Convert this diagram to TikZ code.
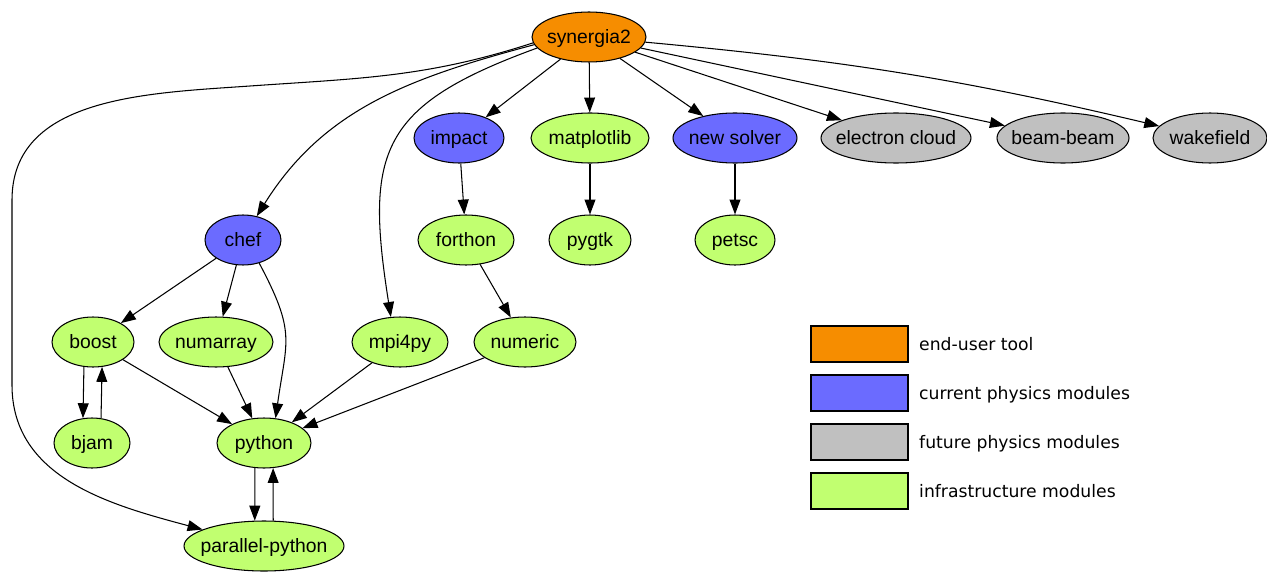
\documentclass[tikz,border=0pt]{standalone}
\usepackage{fontspec}
\usetikzlibrary{arrows.meta,positioning,shapes.geometric}
\newfontfamily\nodefont{Liberation Sans}
\newfontfamily\keyfont{DejaVu Sans}
\definecolor{toolorange}{HTML}{F68D00}
\definecolor{currentblue}{HTML}{6B6BFF}
\definecolor{futuregray}{HTML}{C0C0C0}
\definecolor{infragreen}{HTML}{C1FF70}
\tikzset{
  module/.style={draw, ellipse, line width=0.6pt, inner sep=0pt, minimum height=1cm,
    font=\nodefont\fontsize{11}{13}\selectfont, text height=9.7pt, text depth=2.3pt,
    execute at begin node={\hbox to 0pt\bgroup\hss}, execute at end node={\hss\egroup}},
  toolmod/.style={module, fill=toolorange},
  curmod/.style={module, fill=currentblue},
  futmod/.style={module, fill=futuregray},
  inframod/.style={module, fill=infragreen},
  dep/.style={line width=0.6pt, -{Triangle[length=8.5pt,width=6.2pt]}},
  keybox/.style={draw, line width=1pt, minimum width=1.94cm, minimum height=0.72cm, inner sep=0pt},
  keytext/.style={font=\keyfont\fontsize{9.8}{12}\selectfont, inner sep=0pt, text depth=0pt}
}
\begin{document}
\begin{tikzpicture}[x=0.02cm, y=0.02cm]
                \useasboundingbox (0,0) rectangle (1267,-571);
                % modules
                \node[toolmod, minimum width=2.28cm] (syn) at (589,-37) {synergia2};
                \node[curmod, minimum width=1.8cm] (impact) at (459,-138) {impact};
                \node[inframod, minimum width=2.36cm] (matplotlib) at (590,-138) {matplotlib};
                \node[curmod, minimum width=2.48cm] (newsolver) at (735,-138) {new solver};
                \node[futmod, minimum width=3cm] (ecloud) at (896,-138) {electron cloud};
                \node[futmod, minimum width=2.64cm] (beambeam) at (1063,-138) {beam-beam};
                \node[futmod, minimum width=2.28cm] (wakefield) at (1210,-138) {wakefield};
                \node[curmod, minimum width=1.52cm] (chef) at (243,-240) {chef};
                \node[inframod, minimum width=1.92cm] (forthon) at (466,-240) {forthon};
                \node[inframod, minimum width=1.64cm] (pygtk) at (590,-240) {pygtk};
                \node[inframod, minimum width=1.6cm] (petsc) at (735,-240) {petsc};
                \node[inframod, minimum width=1.64cm] (boost) at (93,-342) {boost};
                \node[inframod, minimum width=2.28cm] (numarray) at (216,-342) {numarray};
                \node[inframod, minimum width=1.92cm] (mpi4py) at (400,-342) {mpi4py};
                \node[inframod, minimum width=2.04cm] (numeric) at (525,-342) {numeric};
                \node[inframod, minimum width=1.52cm] (bjam) at (92,-443) {bjam};
                \node[inframod, minimum width=1.88cm] (python) at (264,-443) {python};
                \node[inframod, minimum width=3.2cm] (pp) at (264,-546) {parallel-python};
                % bends of the long edge
                \coordinate (ppbend) at (250,-86);
                \coordinate (ppside) at (12,-200);
                \coordinate (ppfoot) at (12,-385);
                % dependencies
                \draw[dep] (syn) -- (impact);
                \draw[dep] (syn) -- (matplotlib);
                \draw[dep] (syn) -- (newsolver);
                \draw[dep] (syn) -- (ecloud);
                \draw[dep] (syn) -- (beambeam);
                \draw[dep] (syn) to[bend left=4] (wakefield);
                \draw[dep] (syn.188) to[out=195, in=58] (chef.60);
                \draw[dep] (syn.192) to[out=200, in=99, looseness=1.4] (mpi4py.110);
                \draw[dep] (syn.186) to[out=198, in=4] (ppbend) to[out=184, in=90] (ppside)
                    -- (ppfoot) to[out=-90, in=165] (pp.165);
                \draw[dep] (impact) -- (forthon);
                \draw[dep] (matplotlib) -- (pygtk);
                \draw[dep] (newsolver) -- (petsc);
                \draw[dep] (forthon) -- (numeric);
                \draw[dep] (chef) -- (boost);
                \draw[dep] (chef) -- (numarray);
                \draw[dep] (chef.-55) to[out=-62, in=82, looseness=1.3] (python.65);
                \draw[dep] (boost.-110) -- (bjam.110);
                \draw[dep] (bjam.70) -- (boost.-70);
                \draw[dep] (boost) -- (python);
                \draw[dep] (numarray) -- (python);
                \draw[dep] (mpi4py) -- (python);
                \draw[dep] (numeric) -- (python);
                \draw[dep] (python.-110) -- (pp.110);
                \draw[dep] (pp.70) -- (python.-70);
                % legend
                \node[keybox, fill=toolorange] (keytool) at (859.5,-344) {};
                \node[keybox, fill=currentblue] (keycur) at (859.5,-393) {};
                \node[keybox, fill=futuregray] (keyfut) at (859.5,-442) {};
                \node[keybox, fill=infragreen] (keyinfra) at (859.5,-491) {};
                \node[keytext, right=0.2cm of keytool] (keytooltext) {end-user tool};
                \node[keytext, right=0.2cm of keycur] (keycurtext) {current physics modules};
                \node[keytext, right=0.2cm of keyfut] (keyfuttext) {future physics modules};
                \node[keytext, right=0.2cm of keyinfra] (keyinfratext) {infrastructure modules};
\end{tikzpicture}
\end{document}
